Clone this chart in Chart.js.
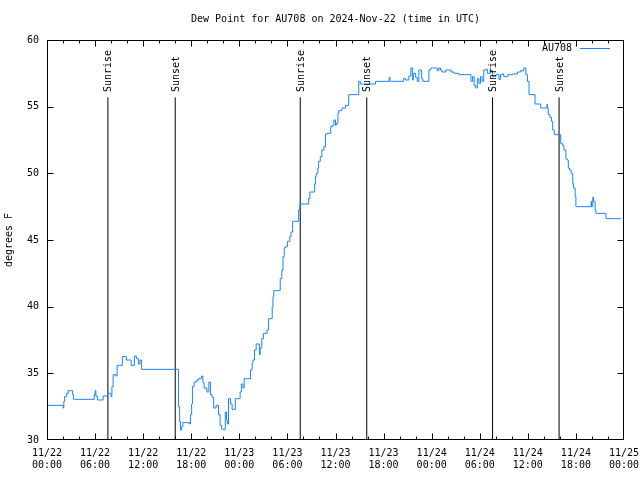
<!DOCTYPE html>
<html>
<head>
<meta charset="utf-8">
<script src="https://cdn.jsdelivr.net/npm/chart.js@4.4.1/dist/chart.umd.min.js"></script>
<style>
  html, body { margin: 0; padding: 0; background: #fff; }
  canvas { display: block; }
</style>
</head>
<body>
<canvas id="dewChart" width="640" height="480"></canvas>
<script>
// =========================
// DATA (hours since 2024-11-22 00:00 UTC)
// =========================
const hours = [
  0, 2.0, 2.1, 2.2, 2.45, 2.65, 2.9, 3.2, 3.3, 3.4,
  5.9, 6.0, 6.1, 6.3, 6.4, 7.0, 7.1, 7.6, 7.75, 8.0,
  8.1, 8.25, 8.6, 8.75, 9.0, 9.4, 9.9, 10.1, 10.5, 10.9,
  11.15, 11.4, 11.6, 11.8, 12.1, 16.4, 16.55, 16.65, 16.8, 16.95,
  17.3, 17.8, 17.9, 18.05, 18.15, 18.35, 18.7, 18.9, 19.3, 19.45,
  19.6, 19.95, 20.2, 20.4, 20.6, 20.8, 21.1, 21.4, 21.6, 21.8,
  21.9, 22.25, 22.4, 22.5, 22.65, 22.9, 23.1, 23.2, 23.5, 23.6,
  24.1, 24.25, 24.45, 24.6, 24.9, 25.4, 25.6, 25.7, 25.9, 26.1,
  26.3, 26.5, 26.6, 26.8, 27.0, 27.45, 27.65, 28.1, 28.2, 28.3,
  28.6, 29.1, 29.3, 29.45, 29.6, 29.75, 30.0, 30.3, 30.45, 30.65,
  30.9, 31.4, 31.55, 31.7, 32.65, 32.8, 32.9, 33.4, 33.5, 33.6,
  33.8, 33.9, 34.1, 34.3, 34.55, 34.75, 34.95, 35.4, 35.6, 35.8,
  36.0, 36.1, 36.3, 36.4, 36.8, 37.25, 37.65, 37.9, 38.9, 39.1,
  39.9, 41.0, 41.2, 42.7, 42.8, 42.95, 44.5, 44.75, 45.15, 45.4,
  45.6, 45.7, 46.0, 46.2, 46.4, 46.75, 46.9, 47.05, 47.65, 47.9,
  48.1, 48.7, 48.9, 49.1, 49.3, 49.75, 49.95, 50.4, 50.8, 51.4,
  51.8, 52.9, 53.1, 53.3, 53.5, 53.7, 53.9, 54.1, 54.3, 54.5,
  54.75, 54.95, 55.3, 55.6, 56.0, 56.4, 56.6, 56.8, 57.0, 57.5,
  58.1, 58.7, 59.1, 59.5, 59.75, 59.95, 60.15, 60.9, 61.6, 61.75,
  62.4, 62.45, 62.55, 62.75, 62.95, 63.1, 63.3, 64.1, 64.3, 64.5,
  64.75, 64.9, 65.05, 65.2, 65.4, 65.6, 65.7, 65.9, 66.0, 67.9,
  67.95, 68.1, 68.2, 68.4, 68.5, 69.75, 70.8, 71.6
];
const dewPoint = [
  32.6, 32.6, 32.4, 32.9, 33.25, 33.5, 33.7, 33.7, 33.4, 33.05,
  33.05, 33.4, 33.7, 33.3, 33.0, 33.0, 33.3, 33.3, 33.5, 33.5,
  33.25, 34.0, 34.9, 34.8, 35.6, 35.6, 36.25, 36.0, 36.0, 35.6,
  36.3, 36.1, 35.7, 36.0, 35.3, 35.3, 32.5, 31.4, 30.75, 31.0,
  31.3, 31.3, 31.2, 31.9, 32.7, 34.0, 34.35, 34.5, 34.6, 34.8,
  34.3, 33.9, 33.6, 34.35, 33.4, 33.2, 32.4, 32.6, 31.9, 31.1,
  30.8, 30.8, 32.1, 31.5, 31.2, 33.1, 32.7, 32.3, 32.3, 33.1,
  33.1, 33.6, 34.2, 33.9, 34.6, 34.6, 35.25, 35.75, 36.0, 36.75,
  37.2, 37.2, 36.4, 36.9, 37.6, 38.0, 38.25, 39.1, 40.0, 40.75,
  41.2, 41.2, 42.1, 42.75, 43.75, 44.4, 44.5, 44.9, 45.25, 45.6,
  46.4, 46.4, 47.25, 47.7, 47.7, 48.1, 48.6, 48.6, 49.2, 49.75,
  50.0, 50.4, 50.9, 51.25, 51.75, 52.0, 52.95, 53.0, 53.5, 53.6,
  54.0, 53.6, 53.75, 54.5, 54.7, 54.9, 55.1, 55.9, 55.9, 56.9,
  56.7, 56.7, 56.9, 56.9, 57.2, 56.9, 56.9, 57.1, 57.0, 57.3,
  57.9, 57.0, 57.5, 57.2, 56.9, 57.75, 57.1, 56.9, 56.9, 57.75,
  57.9, 57.9, 57.7, 57.9, 57.75, 57.6, 57.75, 57.75, 57.6, 57.5,
  57.4, 57.4, 56.9, 57.25, 56.6, 56.4, 57.1, 56.75, 57.25, 56.9,
  57.75, 57.8, 57.5, 57.7, 57.25, 57.4, 57.05, 57.4, 57.45, 57.25,
  57.4, 57.45, 57.6, 57.7, 57.9, 57.4, 56.9, 55.9, 55.2, 54.9,
  54.9, 55.2, 54.9, 54.4, 54.2, 53.9, 53.25, 52.9, 52.25, 52.1,
  51.75, 51.1, 51.0, 50.4, 50.25, 50.0, 49.25, 48.9, 48.25, 47.5,
  47.9, 47.5, 48.2, 47.9, 47.25, 47.0, 46.6, 46.6
];

// sunrise / sunset markers
const eventHours = [7.6, 16.0, 31.6, 39.9, 55.6, 63.9];
const eventNames = ["Sunrise", "Sunset", "Sunrise", "Sunset", "Sunrise", "Sunset"];

// axis ranges
const xMin = 0, xMax = 72, xStep = 2, xLabelEvery = 6;
const yMin = 30, yMax = 60, yStep = 5;
const startDay = 22, monthNum = 11;

// =========================
// STYLE
// =========================
const FONT = '"DejaVu Sans Mono", "Liberation Mono", monospace';
const LINE_COLOR = "#1a84ff";
const markerTop = 55.7;

const pad2 = n => String(n).padStart(2, "0");

function hourLabel(h) {
    const day = startDay + Math.floor(h / 24);
    const hh = h % 24;
    return [pad2(monthNum) + "/" + pad2(day), pad2(hh) + ":00"];
}

// =========================
// DATASETS
// =========================
const datasets = [{
    label: "AU708",
    data: hours.map((h, i) => ({ x: h, y: dewPoint[i] })),
    borderColor: LINE_COLOR,
    borderWidth: 1,
    pointRadius: 0,
    stepped: "after",
    fill: false
}];

eventHours.forEach((h, i) => {
    datasets.push({
        label: eventNames[i],
        data: [{ x: h, y: yMin }, { x: h, y: markerTop }],
        borderColor: "#000",
        borderWidth: 1,
        pointRadius: 0,
        fill: false
    });
});

// =========================
// EXTRAS: border, inward ticks, marker labels, key
// =========================
const gnuplotLook = {
    id: "gnuplotLook",
    afterDraw(chart) {
        const { ctx, chartArea: a, scales } = chart;
        const xs = scales.x, ys = scales.y;
        const L = Math.round(a.left) + 0.5, R = Math.round(a.right) - 0.5;
        const T = Math.round(a.top) + 0.5, B = Math.round(a.bottom) - 0.5;
        ctx.save();
        ctx.strokeStyle = "#000";
        ctx.lineWidth = 1;

        // frame
        ctx.beginPath();
        ctx.moveTo(L, T);
        ctx.lineTo(R, T);
        ctx.lineTo(R, B);
        ctx.lineTo(L, B);
        ctx.closePath();
        ctx.stroke();

        // x ticks (bottom + top)
        ctx.beginPath();
        for (let h = xMin; h <= xMax; h += xStep) {
            const px = Math.min(R, Math.round(xs.getPixelForValue(h)) + 0.5);
            const len = h % xLabelEvery === 0 ? 6 : 3;
            ctx.moveTo(px, B);
            ctx.lineTo(px, B - len);
            ctx.moveTo(px, T);
            ctx.lineTo(px, T + len);
        }
        // y ticks (left + right)
        for (let v = yMin; v <= yMax; v += yStep) {
            const py = Math.min(B, Math.round(ys.getPixelForValue(v)) + 0.5);
            ctx.moveTo(L, py);
            ctx.lineTo(L + 6, py);
            ctx.moveTo(R, py);
            ctx.lineTo(R - 6, py);
        }
        ctx.stroke();

        // sunrise / sunset labels
        ctx.fillStyle = "#000";
        ctx.font = "10px " + FONT;
        ctx.textAlign = "left";
        ctx.textBaseline = "middle";
        eventHours.forEach((h, i) => {
            const px = xs.getPixelForValue(h);
            ctx.save();
            ctx.translate(px + 1, 92);
            ctx.rotate(-Math.PI / 2);
            ctx.fillText(eventNames[i], 0, 0);
            ctx.restore();
        });

        // key
        ctx.textAlign = "right";
        ctx.fillText("AU708", 572, 48);
        ctx.strokeStyle = LINE_COLOR;
        ctx.beginPath();
        ctx.moveTo(580, 48.5);
        ctx.lineTo(610, 48.5);
        ctx.stroke();
        ctx.restore();
    }
};

// =========================
// CHART
// =========================
const ctx = document.getElementById("dewChart");

new Chart(ctx, {
    type: "line",
    data: { datasets },
    plugins: [gnuplotLook],
    options: {
        responsive: false,
        animation: false,
        devicePixelRatio: 1,
        layout: { padding: { left: 0, right: 16, top: 0, bottom: 0 } },
        plugins: {
            legend: { display: false },
            tooltip: { enabled: false },
            title: {
                display: true,
                text: "Dew Point for AU708 on 2024-Nov-22 (time in UTC)",
                color: "#000",
                fullSize: false,
                font: { family: FONT, size: 10, weight: "normal", lineHeight: 1.2 },
                padding: { top: 13, bottom: 15 }
            }
        },
        scales: {
            x: {
                type: "linear",
                min: xMin,
                max: xMax,
                afterFit: s => {
                    s.height = 40;
                    s.paddingLeft = 0;
                    s.paddingRight = 0;
                },
                grid: { display: false, drawTicks: false },
                border: { display: false },
                ticks: {
                    stepSize: xStep,
                    autoSkip: false,
                    maxRotation: 0,
                    padding: 7,
                    color: "#000",
                    font: { family: FONT, size: 10, lineHeight: 1.2 },
                    callback: v => (v % xLabelEvery === 0 ? hourLabel(v) : "")
                }
            },
            y: {
                min: yMin,
                max: yMax,
                afterFit: s => {
                    s.width = 47;
                    s.paddingTop = 0;
                    s.paddingBottom = 0;
                },
                grid: { display: false, drawTicks: false },
                border: { display: false },
                title: {
                    display: true,
                    text: "degrees F",
                    color: "#000",
                    font: { family: FONT, size: 10, lineHeight: 1.2 },
                    padding: { top: 3, bottom: 0 }
                },
                ticks: {
                    stepSize: yStep,
                    padding: 8,
                    color: "#000",
                    font: { family: FONT, size: 10 }
                }
            }
        }
    }
});
</script>
</body>
</html>
